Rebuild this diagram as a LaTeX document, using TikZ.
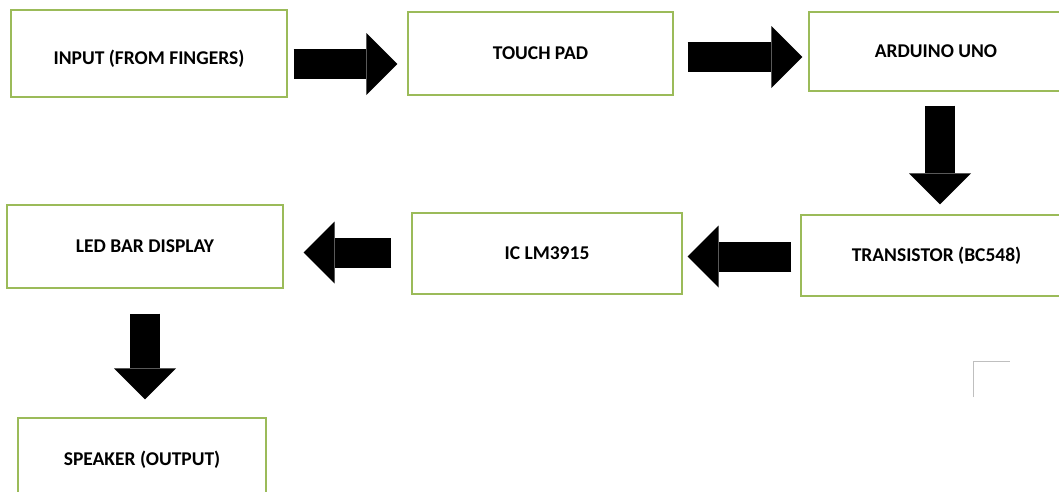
\documentclass[tikz,border=0pt]{standalone}
\usepackage{fontspec}
\setmainfont{Carlito}
\usetikzlibrary{arrows.meta}
\definecolor{boxgreen}{RGB}{155,187,89}
\tikzset{
  block/.style={draw=boxgreen, line width=1.2pt, fill=white, inner sep=0pt,
    font=\fontsize{19.5}{22}\selectfont\bfseries},
  bigarrow/.style={line width=30pt,
    -{Triangle[length=31pt,width=62pt,line width=0pt]}}
}
\begin{document}
\begin{tikzpicture}[x=1pt,y=-1pt]
  \clip (0,0) rectangle (1059,491);
  \fill[white] (0,0) rectangle (1059,491);
  % first row
  \node[block, minimum width=276pt, minimum height=87pt] (input) at (149,53.5)
    {\raisebox{-6pt}[0.7em][0.2em]{INPUT (FROM FINGERS)}};
  \node[block, minimum width=265pt, minimum height=83pt] (pad) at (540.5,53.5) {TOUCH PAD};
  \node[block, minimum width=254pt, minimum height=79pt] (uno) at (936,51.5) {ARDUINO UNO};
  % second row
  \node[block, minimum width=271pt, minimum height=81pt] (trans) at (936.5,255.5) {TRANSISTOR (BC548)};
  \node[block, minimum width=270pt, minimum height=81pt] (ic) at (547,253.5) {IC LM3915};
  \node[block, minimum width=276pt, minimum height=83pt] (led) at (145,246.5) {LED BAR DISPLAY};
  % last one
  \node[block, minimum width=248pt, minimum height=83pt] (speaker) at (142,459.5) {SPEAKER (OUTPUT)};
  % arrows
  \draw[bigarrow] ([shift={(6,10.5)}]input.east) -- ([shift={(-10,10.5)}]pad.west);
  \draw[bigarrow] ([shift={(14,3.5)}]pad.east) -- ([shift={(-6,5.5)}]uno.west);
  \draw[bigarrow] ([shift={(4,14)}]uno.south) -- ([shift={(3.5,-10)}]trans.north);
  \draw[bigarrow] ([shift={(-9,1)}]trans.west) -- ([shift={(5,3)}]ic.east);
  \draw[bigarrow] ([shift={(-20,-1)}]ic.west) -- ([shift={(20,6)}]led.east);
  \draw[bigarrow] ([shift={(0,25)}]led.south) -- ([shift={(3,-18)}]speaker.north);
  % corner mark
  \draw[black!25, line width=1pt] (973,397) -- (973,361) -- (1010,361);
\end{tikzpicture}
\end{document}
